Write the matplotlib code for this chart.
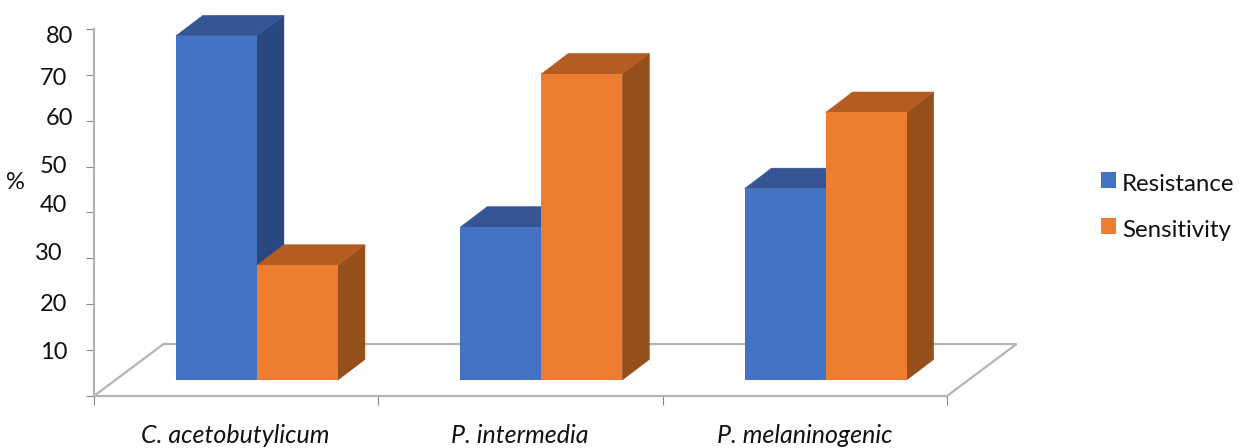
import matplotlib
matplotlib.use('Agg')
import matplotlib.pyplot as plt
from matplotlib.patches import Patch

# values
species = ['C. acetobutylicum', 'P. intermedia', 'P. melaninogenic']
resistance = [75, 33.3, 41.7]
sensitivity = [25, 66.7, 58.3]
yticks = [0, 10, 20, 30, 40, 50, 60, 70, 80]
ylabels = ['10', '20', '30', '40', '50', '60', '70', '80']

W, H = 1239, 448
plt.rcParams['font.family'] = ['Lato', 'DejaVu Sans']

fig = plt.figure(figsize=(W / 100, H / 100), dpi=100)
ax = fig.add_axes([94 / W, 1 - 396 / H, (947 - 94) / W, (396 - 29) / H])
ax.set_xlim(0, 3)
ax.set_ylim(0, 80)

GREY = '#b4b4b4'
for s in ['top', 'right']:
    ax.spines[s].set_visible(False)
for s in ['left', 'bottom']:
    ax.spines[s].set_color(GREY)
    ax.spines[s].set_linewidth(1.6)
ax.set_xticks([0, 1, 2, 3])
ax.set_yticks(yticks)
ax.set_xticklabels([])
ax.set_yticklabels([])
ax.tick_params(axis='x', length=6.5, width=0.8, color='#888888')
ax.tick_params(axis='y', length=5.5, width=0.8, color='#888888')

# floor of the fake 3d plot
fx, fy = 69.5 / 284.3, 52 / 4.59
ax.plot([0, fx, 3 + fx, 3], [0, fy, fy, 0], color=GREY, lw=1.6, clip_on=False, zorder=1,
        solid_joinstyle='miter')

# bar geometry in axis units
start = 0.288
bw = 0.285
base = 3.5
dx = 27 / 284.3
dy = 20.5 / 4.59


def bar3d(x, val, front, top, side):
    y1 = base + val
    ax.fill([x + bw, x + bw + dx, x + bw + dx, x + bw],
            [base, base + dy, y1 + dy, y1], fc=side, ec=side, lw=0.4, clip_on=False, zorder=3)
    ax.fill([x, x + dx, x + bw + dx, x + bw],
            [y1, y1 + dy, y1 + dy, y1], fc=top, ec=top, lw=0.4, clip_on=False, zorder=3)
    ax.bar(x, val, width=bw, bottom=base, align='edge', color=front, lw=0,
           clip_on=False, zorder=3)


for i in range(len(species)):
    bar3d(i + start, resistance[i], '#4472c4', '#355594', '#2a4880')
    bar3d(i + start + bw, sensitivity[i], '#ed7d31', '#b45c22', '#964f1b')

# the tick labels wander a bit in the original, placed one by one
label_x = [68, 67, 63, 67, 67, 73, 67, 73]
label_y = [359, 311, 260, 212, 173, 125, 85, 43]
for t, px, py in zip(ylabels, label_x, label_y):
    fig.text(px / W, 1 - py / H, t, fontsize=17, color='#111111', ha='right', va='baseline')

fig.text(15.5 / W, 1 - 189 / H, '%', fontsize=17, color='#111111', ha='center', va='baseline')

cat_x = [235, 520, 805]
for name, px in zip(species, cat_x):
    fig.text(px / W, 1 - 443 / H, name, fontsize=18, style='italic', color='#111111',
             ha='center', va='baseline')

handles = [Patch(color='#4472c4', lw=0), Patch(color='#ed7d31', lw=0)]
leg = fig.legend(handles, ['Resistance', 'Sensitivity'], loc='center left',
                 bbox_to_anchor=(1101 / W, 1 - 205 / H), frameon=False, fontsize=17.3,
                 handlelength=0.63, handleheight=0.63, handletextpad=0.25, labelspacing=1.05,
                 borderpad=0, borderaxespad=0, labelcolor='#111111')
# text sits lower than the squares in the original
for t in leg.get_texts():
    t.set_position((0, -2.5))

fig.savefig('out.png', dpi=100)
